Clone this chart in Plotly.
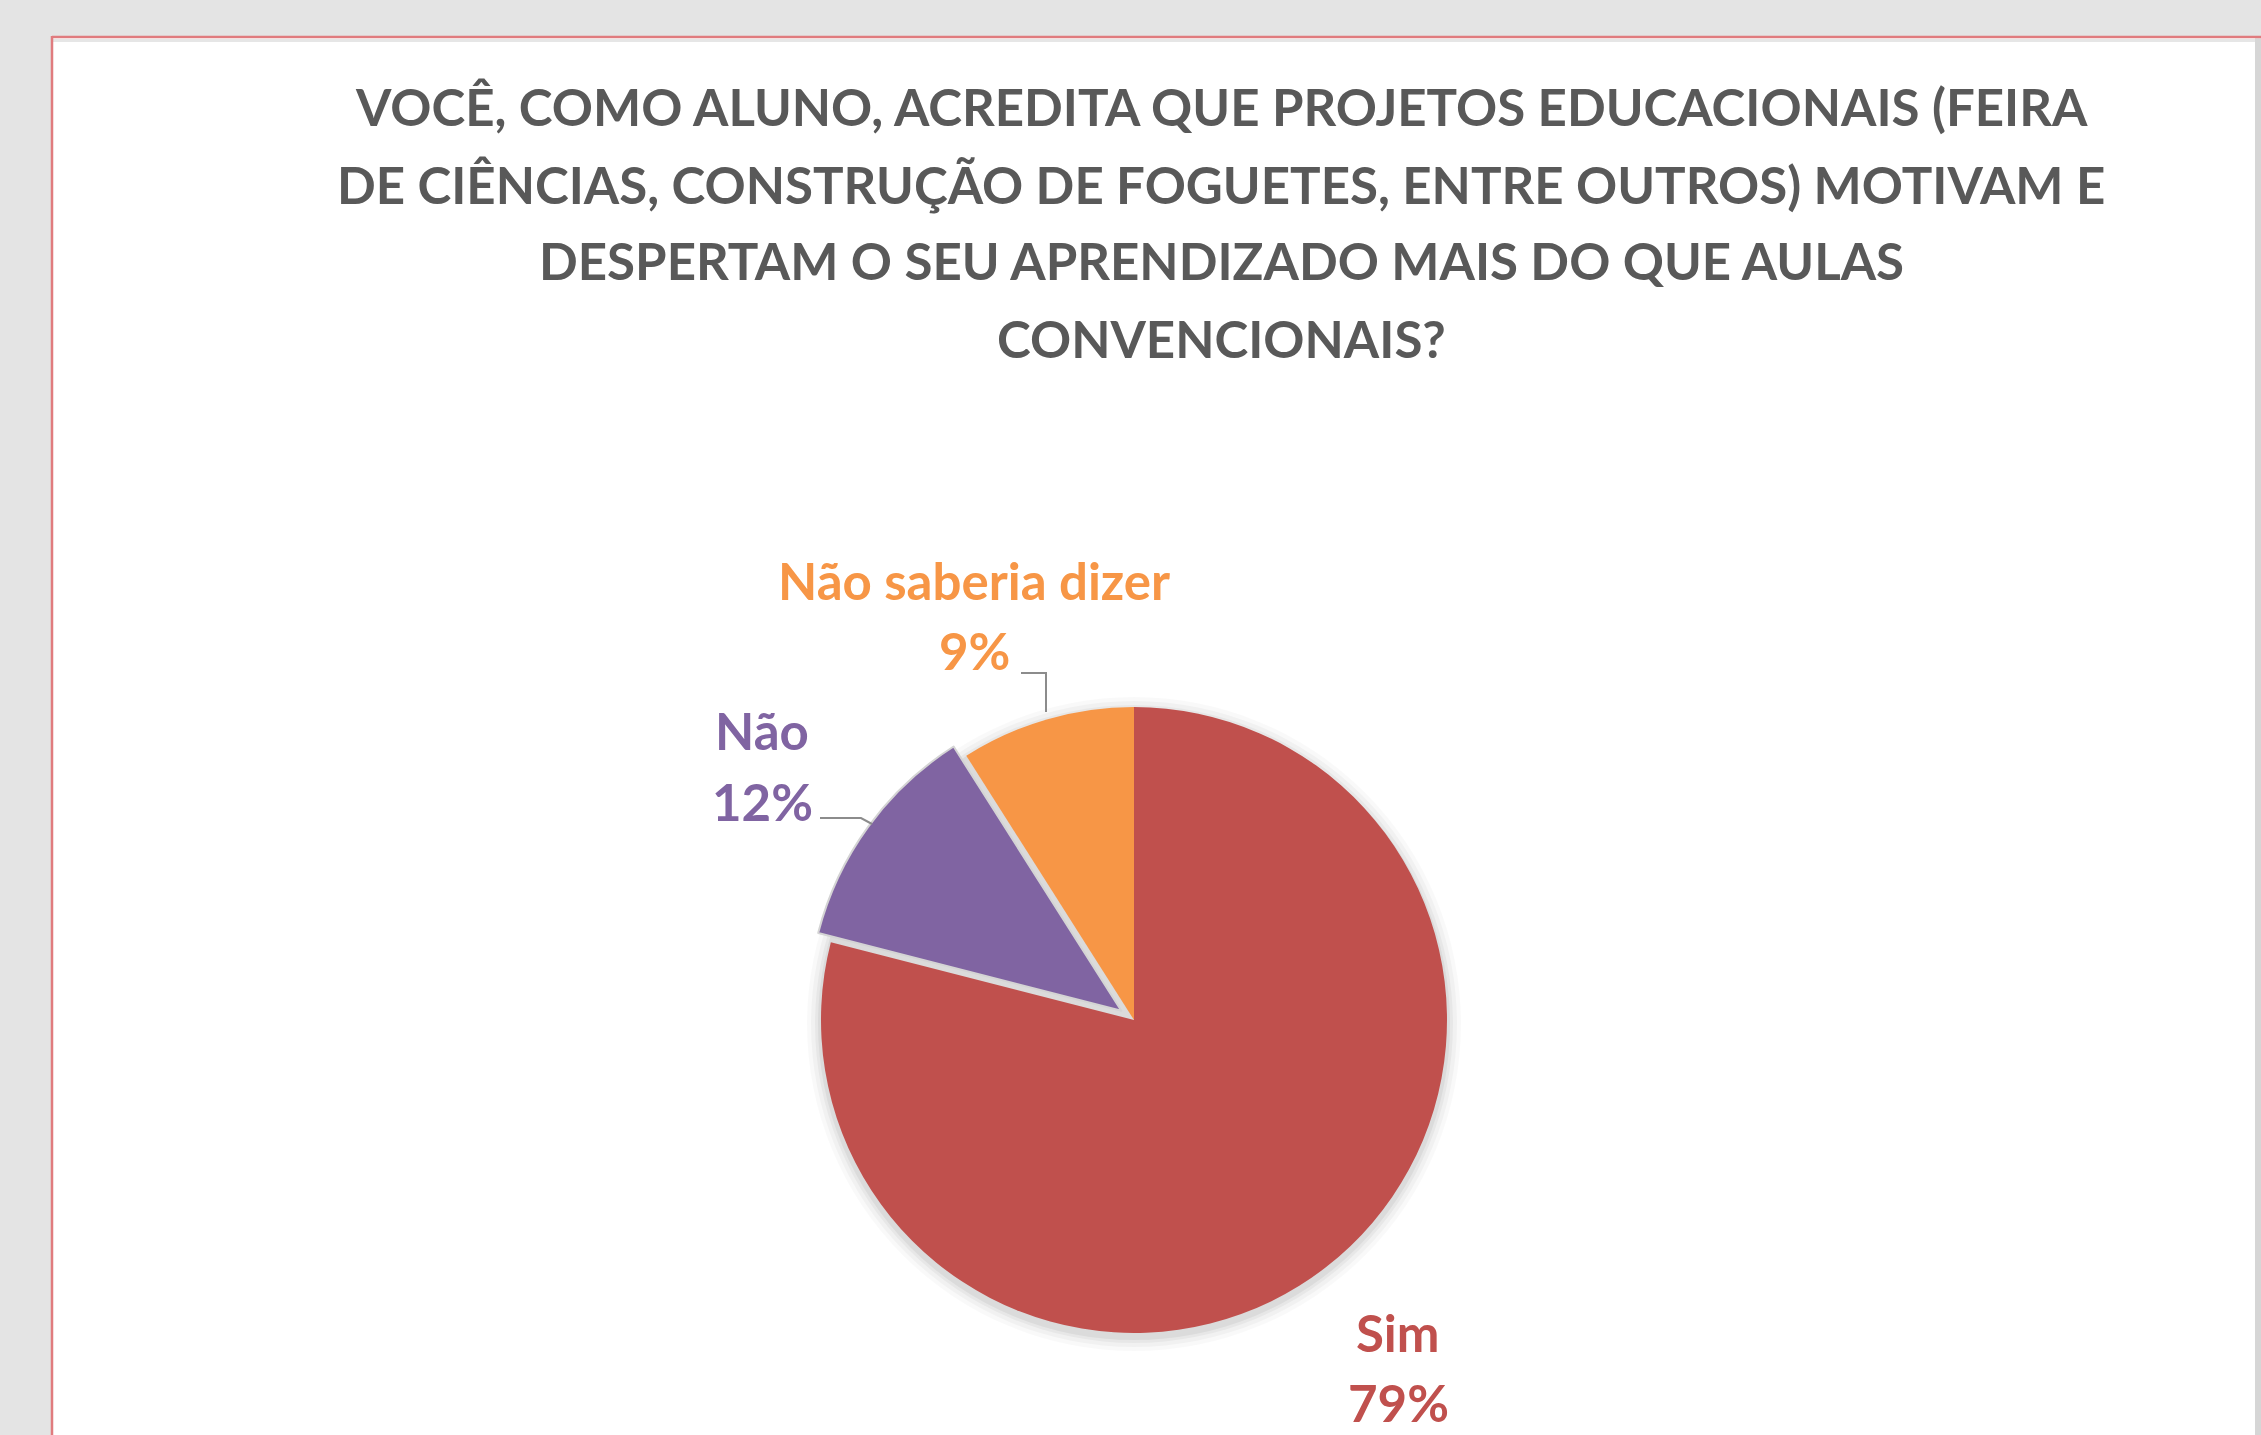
import plotly.graph_objects as go

# ---- data ----
labels = ["Sim", "Não", "Não saberia dizer"]
values = [79, 12, 9]
slice_colors = ["#C0504D", "#8064A2", "#F79646"]
pulls = [0, 0.05, 0]
title_lines = [
    "VOCÊ, COMO ALUNO, ACREDITA QUE PROJETOS EDUCACIONAIS (FEIRA",
    "DE CIÊNCIAS, CONSTRUÇÃO DE FOGUETES, ENTRE OUTROS) MOTIVAM E",
    "DESPERTAM O SEU APRENDIZADO MAIS DO QUE AULAS",
    "CONVENCIONAIS?",
]

W, H = 2261, 1435
FONT = "Lato"


def px(x):
    return x / W


def py(y):
    return 1 - y / H


# pie geometry (pixels)
cx, cy, r = 1134, 1020, 313
half = r * (1 + max(pulls))

fig = go.Figure(
    go.Pie(
        labels=labels,
        values=values,
        sort=False,
        direction="clockwise",
        rotation=0,
        pull=pulls,
        marker=dict(
            colors=slice_colors,
            line=dict(color=["#FFFFFF", "#D4D4D4", "#FFFFFF"], width=[0, 2, 0]),
        ),
        textinfo="none",
        hoverinfo="label+percent",
        showlegend=False,
        domain=dict(x=[px(cx - half), px(cx + half)], y=[py(cy + half), py(cy - half)]),
    )
)

shapes = []
# chart area background and border
shapes.append(dict(type="rect", xref="paper", yref="paper", x0=px(53), x1=px(2255), y0=py(H + 10), y1=py(38),
                   fillcolor="#FFFFFF", line=dict(width=0), layer="below"))
shapes.append(dict(type="rect", xref="paper", yref="paper", x0=px(2255), x1=px(W), y0=py(H + 10), y1=py(39),
                   fillcolor="#D6D6D6", line=dict(width=0), layer="below"))
shapes.append(dict(type="line", xref="paper", yref="paper", x0=px(53), x1=px(2255), y0=py(40.5), y1=py(40.5),
                   line=dict(color="#E6E6E6", width=3), layer="below"))
shapes.append(dict(type="line", xref="paper", yref="paper", x0=px(52), x1=px(W + 5), y0=py(37), y1=py(37),
                   line=dict(color="#E07B7E", width=2.5), layer="below"))
shapes.append(dict(type="line", xref="paper", yref="paper", x0=px(52), x1=px(52), y0=py(36), y1=py(H + 10),
                   line=dict(color="#E07B7E", width=2.5), layer="below"))
# soft shadow behind the pie
for extra, alpha in [(14, 0.025), (10, 0.03), (6, 0.04), (3, 0.05)]:
    R = r + extra
    shapes.append(dict(type="circle", xref="paper", yref="paper",
                       x0=px(cx - R), x1=px(cx + R), y0=py(cy + 4 + R), y1=py(cy + 4 - R),
                       fillcolor=f"rgba(0,0,0,{alpha})", line=dict(width=0), layer="below"))

# leader lines
leader = dict(color="#8C8C8C", width=2)
shapes.append(dict(type="path", xref="paper", yref="paper",
                   path=f"M {px(1021)},{py(673)} L {px(1046)},{py(673)} L {px(1046)},{py(712)}",
                   line=leader))
shapes.append(dict(type="path", xref="paper", yref="paper",
                   path=f"M {px(820)},{py(818)} L {px(861)},{py(818)} L {px(872)},{py(824)}",
                   line=leader))

annotations = []
# title lines
for i, line in enumerate(title_lines):
    annotations.append(dict(text=f"<b>{line}</b>", x=px(1221), y=py(107 + 77 * i), xref="paper", yref="paper",
                            xanchor="center", yanchor="middle", showarrow=False,
                            font=dict(family=FONT, size=51, color="#595959")))

# data labels
total = sum(values)
label_pos = {  # name line center, percent line center (pixels)
    "Sim": (1398, 1332, 1402),
    "Não": (762, 730, 801),
    "Não saberia dizer": (974, 580, 651),
}
for lab, val, col in zip(labels, values, slice_colors):
    x0, y_name, y_pct = label_pos[lab]
    pct = round(val / total * 100)
    for txt, yy in [(lab, y_name), (f"{pct}%", y_pct)]:
        annotations.append(dict(text=f"<b>{txt}</b>", x=px(x0), y=py(yy), xref="paper", yref="paper",
                                xanchor="center", yanchor="middle", showarrow=False,
                                font=dict(family=FONT, size=51, color=col)))

fig.update_layout(
    width=W,
    height=H,
    margin=dict(l=0, r=0, t=0, b=0),
    paper_bgcolor="#E4E4E4",
    plot_bgcolor="#E4E4E4",
    shapes=shapes,
    annotations=annotations,
)

fig.write_html(
    "out.html",
    config={"displayModeBar": False},
    post_script="document.body.style.margin='0';document.body.style.overflow='hidden';",
)
